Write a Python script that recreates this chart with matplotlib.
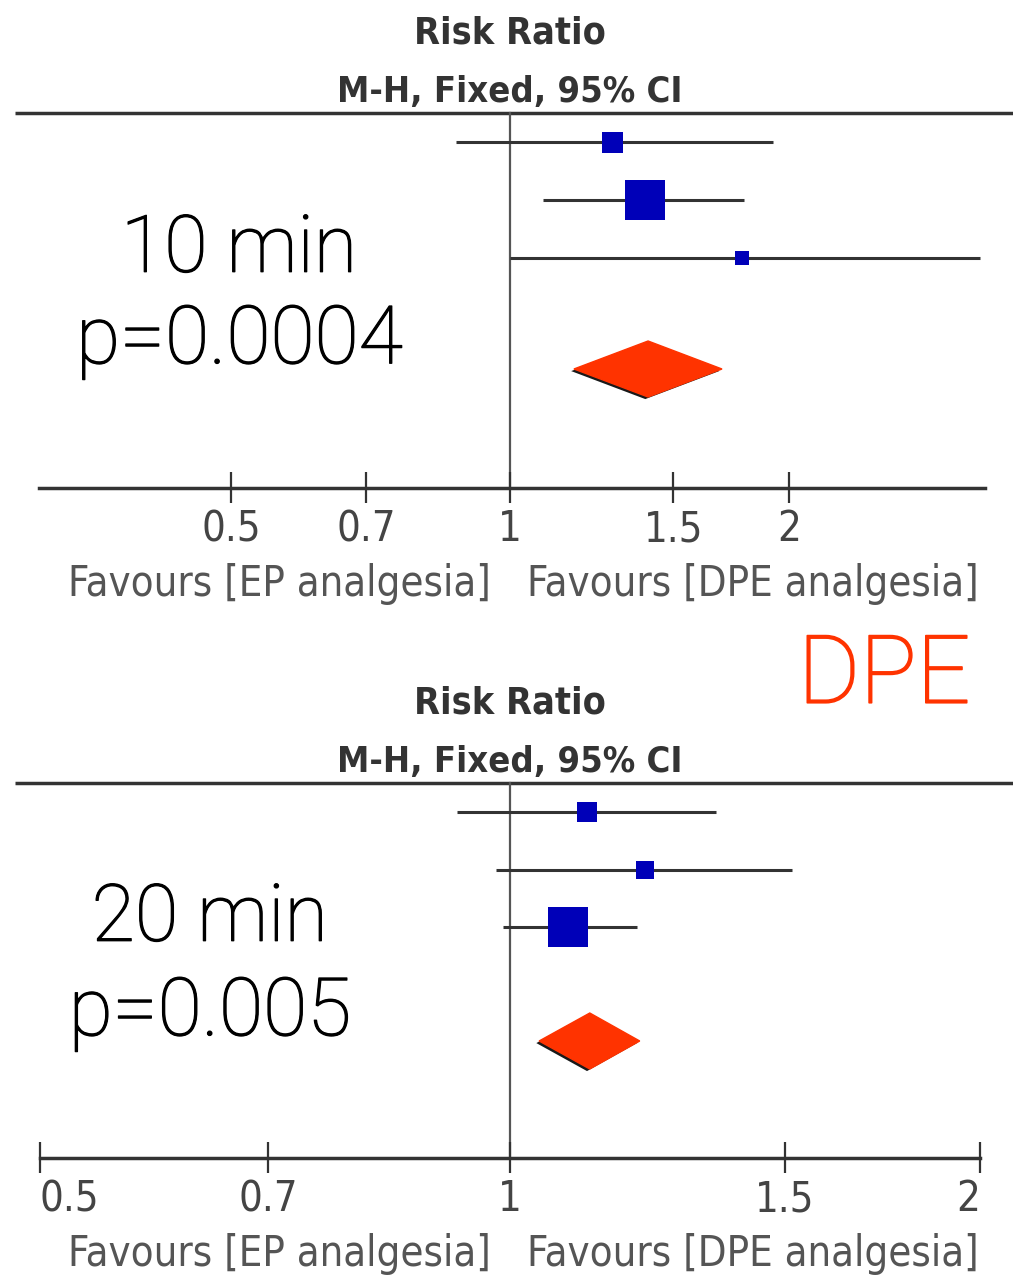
import matplotlib.pyplot as plt
from matplotlib import patheffects as pe

# ---- 10 min panel (risk ratios) ----
rr_10 = [1.29, 1.40, 1.78]
lo_10 = [0.875, 1.085, 1.0]
hi_10 = [1.92, 1.79, 3.21]
box_10 = [21, 40, 14]            # square side in px (study weight)
pool_10 = [1.409, 1.172, 1.693]  # est, lo, hi

# ---- 20 min panel ----
rr_20 = [1.12, 1.22, 1.09]
lo_20 = [0.925, 0.98, 0.99]
hi_20 = [1.355, 1.515, 1.206]
box_20 = [20, 18, 40]
pool_20 = [1.125, 1.044, 1.211]

tick_vals = [0.5, 0.7, 1, 1.5, 2]
tick_labels = ["0.5", "0.7", "1", "1.5", "2"]

narrow = dict(family="DejaVu Sans", fontstretch="condensed")
light = ["Roboto", "DejaVu Sans"]
thick = [pe.withStroke(linewidth=0.9, foreground="black")]

W, H = 1013, 1278
fig = plt.figure(figsize=(W / 100, H / 100), dpi=100)


def panel(xlim, axis_ends, y_head, rows, y_diam, y_axis, rr, lo, hi, box, pool, label, pval, lab_x):
    ax = fig.add_axes([0, 0, 1, 1])
    ax.set_xscale("log")
    ax.set_xlim(xlim)
    ax.set_ylim(H, 0)
    ax.axis("off")
    ax.patch.set_visible(False)

    # header
    ax.text(1, y_head - 79, "Risk Ratio", ha="center", va="center", fontsize=27,
            fontweight="bold", color="#333333", **narrow)
    ax.text(1, y_head - 21, "M-H, Fixed, 95% CI", ha="center", va="center", fontsize=26,
            fontweight="bold", color="#333333", **narrow)
    ax.plot([0.015, 1], [y_head, y_head], transform=ax.get_yaxis_transform(),
            color="#333333", lw=2.5, solid_capstyle="butt")

    # line of no effect
    ax.plot([1, 1], [y_head, y_axis], color="#555555", lw=1.6)

    # studies
    ax.hlines(rows, lo, hi, color="#333333", lw=2.2)
    ax.scatter(rr, rows, marker="s", s=[(b * 0.72) ** 2 for b in box],
               color="#0000b8", zorder=3, linewidths=0)

    # pooled diamond
    est, plo, phi = pool
    ax.fill([plo, est, phi, est], [y_diam, y_diam - 28, y_diam, y_diam + 28],
            color="#ff3300", zorder=3,
            path_effects=[pe.SimplePatchShadow(offset=(-2, -1.5), shadow_rgbFace="black", alpha=0.9),
                          pe.Normal()])

    # x axis
    ax.plot(axis_ends, [y_axis, y_axis], color="#333333", lw=2.5)
    ticks = [t for t in tick_vals if axis_ends[0] <= t <= axis_ends[1]]
    ax.vlines(ticks, y_axis - 16, y_axis + 15, color="#333333", lw=1.6)
    for t, l in zip(tick_vals, tick_labels):
        ha = "center"
        if t == axis_ends[0]:
            ha = "left"
        elif t == axis_ends[1]:
            ha = "right"
        ax.text(t, y_axis + 41, l, ha=ha, va="center", fontsize=30,
                color="#444444", **narrow)
    ax.text(0.485, y_axis + 96, "Favours [EP analgesia]", ha="right", va="center",
            fontsize=30, color="#555555", transform=ax.get_yaxis_transform(), **narrow)
    ax.text(0.52, y_axis + 96, "Favours [DPE analgesia]", ha="left", va="center",
            fontsize=30, color="#555555", transform=ax.get_yaxis_transform(), **narrow)

    # annotation
    ax.text(lab_x, rows[2] - 8, label, ha="center", va="center", fontsize=57,
            fontweight="light", color="black", family=light,
            transform=ax.get_yaxis_transform(), path_effects=thick)
    ax.text(lab_x, y_diam - 28, pval, ha="center", va="center", fontsize=58,
            fontweight="light", color="black", family=light,
            transform=ax.get_yaxis_transform(), path_effects=thick)
    return ax


panel((0.2817, 3.488), (0.31, 3.25), 113, [142, 200, 258], 369, 488,
      rr_10, lo_10, hi_10, box_10, pool_10, "10 min", "p=0.0004", 0.236)
ax2 = panel((0.4714, 2.100), (0.5, 2.0), 783, [812, 870, 927], 1041, 1158,
            rr_20, lo_20, hi_20, box_20, pool_20, "20 min", "p=0.005", 0.207)

ax2.text(0.873, 677, "DPE", ha="center", va="center", fontsize=68, fontweight="light",
         color="#ff3300", family=light, transform=ax2.get_yaxis_transform(),
         path_effects=[pe.withStroke(linewidth=1.2, foreground="#ff3300")])

fig.savefig("out.png", dpi=100, facecolor="white")
